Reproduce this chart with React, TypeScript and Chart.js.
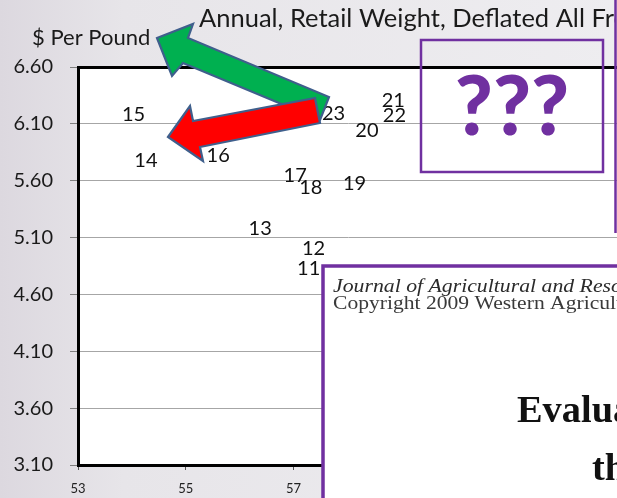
import React, { useEffect, useRef } from 'react';
import { Chart, registerables } from 'chart.js';

Chart.register(...registerables);

// ---- Data ----
const yearLabels = ['11', '12', '13', '14', '15', '16', '17', '18', '19', '20', '21', '22', '23'];
const quantity = [57.28, 57.37, 56.38, 54.26, 54.03, 55.6, 57.03, 57.32, 58.13, 58.36, 58.85, 58.87, 57.74];
const pricePerPound = [4.84, 5.01, 5.19, 5.79, 6.19, 5.83, 5.65, 5.55, 5.58, 6.05, 6.31, 6.18, 6.2];
const xTickValues = [53, 55, 57, 59, 61, 63];
const yTickValues = [3.1, 3.6, 4.1, 4.6, 5.1, 5.6, 6.1, 6.6];

const titleText = 'Annual, Retail Weight, Deflated All Fresh Fruits';
const yAxisText = '$ Per Pound';
const questionText = '???';
const journalLine1 = 'Journal of Agricultural and Resource Economics';
const journalLine2 = 'Copyright 2009 Western Agricultural Economics Association';
const paperTitle1 = 'Evaluating';
const paperTitle2 = 'the';

const SANS = 'Lato, "Open Sans", "DejaVu Sans", sans-serif';
const SERIF = '"Liberation Serif", "DejaVu Serif", serif';
const PURPLE = '#7030a0';
const ARROW_EDGE = '#3f5f8c';
const CANVAS_W = 617;
const CANVAS_H = 498;

function polygon(ctx: CanvasRenderingContext2D, pts: number[][], fill: string) {
  ctx.beginPath();
  ctx.moveTo(pts[0][0], pts[0][1]);
  for (let i = 1; i < pts.length; i++) ctx.lineTo(pts[i][0], pts[i][1]);
  ctx.closePath();
  ctx.fillStyle = fill;
  ctx.fill();
  ctx.lineWidth = 2.2;
  ctx.lineJoin = 'miter';
  ctx.strokeStyle = ARROW_EDGE;
  ctx.stroke();
}

// draws text horizontally stretched so that `sample` (its prefix) spans `targetWidth`
function stretchedText(
  ctx: CanvasRenderingContext2D,
  text: string,
  sample: string,
  targetWidth: number,
  x: number,
  y: number
) {
  const w = ctx.measureText(sample).width || 1;
  const k = targetWidth / w;
  ctx.save();
  ctx.translate(x, y);
  ctx.scale(k, 1);
  ctx.fillText(text, 0, 0);
  ctx.restore();
}

const backgroundPlugin = {
  id: 'slideBackground',
  beforeDraw(chart: any) {
    const { ctx, width, height, chartArea } = chart;
    ctx.save();
    const g = ctx.createLinearGradient(0, 0, width, 0);
    g.addColorStop(0, '#dcd8df');
    g.addColorStop(0.2, '#e7e5e9');
    g.addColorStop(1, '#eeedf0');
    ctx.fillStyle = g;
    ctx.fillRect(0, 0, width, height);
    ctx.fillStyle = '#ffffff';
    ctx.fillRect(chartArea.left, chartArea.top, chartArea.right - chartArea.left, chartArea.bottom - chartArea.top);
    ctx.restore();
  },
};

const pointLabelPlugin = {
  id: 'yearLabels',
  afterDatasetsDraw(chart: any) {
    const { ctx } = chart;
    const meta = chart.getDatasetMeta(0);
    ctx.save();
    ctx.font = `20px ${SANS}`;
    ctx.fillStyle = '#111111';
    ctx.textAlign = 'center';
    ctx.textBaseline = 'middle';
    meta.data.forEach((pt: any, i: number) => {
      ctx.fillText(yearLabels[i], pt.x, pt.y + 1);
    });
    ctx.restore();
  },
};

const overlayPlugin = {
  id: 'slideOverlays',
  afterDraw(chart: any) {
    const { ctx, width, height } = chart;
    ctx.save();

    // slide texts
    ctx.fillStyle = '#1a1a1a';
    ctx.textBaseline = 'alphabetic';
    ctx.textAlign = 'left';
    ctx.font = `25.5px ${SANS}`;
    ctx.save();
    ctx.beginPath();
    ctx.rect(0, 0, 615, height);
    ctx.clip();
    ctx.fillText(titleText, 199, 27);
    ctx.restore();
    ctx.font = `22px ${SANS}`;
    ctx.fillText(yAxisText, 32, 45);

    // arrows
    polygon(ctx, [[157, 38], [193, 24], [188, 38], [329, 97], [320, 120], [183, 63], [172, 76]], '#00b050');
    polygon(ctx, [[168, 137], [190, 106], [193, 121], [315, 98], [320, 123], [200, 147], [203, 161]], '#ff0000');

    // "???" box
    ctx.strokeStyle = PURPLE;
    ctx.lineWidth = 2.5;
    ctx.strokeRect(421, 40, 182, 132);
    ctx.fillStyle = PURPLE;
    ctx.font = `900 82px ${SANS}`;
    ctx.textAlign = 'center';
    ctx.fillText(questionText, 512, 135);

    // edge of another box on the right
    ctx.beginPath();
    ctx.moveTo(615.5, 0);
    ctx.lineTo(615.5, 233);
    ctx.lineWidth = 2.5;
    ctx.stroke();

    // journal page box
    ctx.fillStyle = '#ffffff';
    ctx.fillRect(323, 266, width - 323 + 10, height - 266 + 10);
    ctx.strokeStyle = PURPLE;
    ctx.lineWidth = 3.5;
    ctx.strokeRect(323, 266, width - 323 + 10, height - 266 + 10);

    ctx.textAlign = 'left';
    ctx.fillStyle = '#2b2b2b';
    ctx.font = `italic 19px ${SERIF}`;
    stretchedText(ctx, journalLine1, 'Journal of Agricultural and Res', 278, 333, 292);
    ctx.fillStyle = '#3a3a3a';
    ctx.font = `19px ${SERIF}`;
    stretchedText(ctx, journalLine2, 'Copyright 2009 Western Agricu', 277, 333, 309);

    ctx.fillStyle = '#111111';
    ctx.font = `bold 37px ${SERIF}`;
    stretchedText(ctx, paperTitle1, 'Evalu', 96, 517, 422);
    stretchedText(ctx, paperTitle2, 'Evalu', 96, 592, 480);

    ctx.restore();
  },
};

export default function App() {
  const canvasRef = useRef<HTMLCanvasElement | null>(null);

  useEffect(() => {
    document.body.style.margin = '0';
    const canvas = canvasRef.current;
    if (!canvas) return;
    const chart: any = new Chart(canvas, {
      type: 'scatter',
      data: {
        datasets: [
          {
            label: 'Fresh fruit',
            data: quantity.map((x, i) => ({ x, y: pricePerPound[i] })),
            pointRadius: 0,
            pointHoverRadius: 0,
            showLine: false,
          },
        ],
      },
      options: {
        responsive: false,
        devicePixelRatio: 1,
        animation: false,
        events: [],
        layout: { padding: { top: 67, left: 0, right: 0, bottom: 0 } },
        plugins: {
          legend: { display: false },
          tooltip: { enabled: false },
          title: { display: false },
        },
        scales: {
          x: {
            type: 'linear',
            min: xTickValues[0],
            max: xTickValues[xTickValues.length - 1],
            afterBuildTicks: (s: any) => {
              s.ticks = xTickValues.map((v) => ({ value: v }));
            },
            afterFit: (s: any) => {
              s.height = 33;
              s.paddingRight = 0;
              s.paddingLeft = 0;
            },
            ticks: {
              autoSkip: false,
              maxRotation: 0,
              color: '#222222',
              padding: 11,
              font: { family: SANS, size: 13 },
              callback: (v: any) => (Number(v) <= 57 ? String(v) : ''),
            },
            grid: {
              drawOnChartArea: false,
              drawTicks: true,
              tickLength: 5,
              tickColor: '#555555',
              tickWidth: 1,
            },
            border: { color: '#000000', width: 3 },
          },
          y: {
            type: 'linear',
            min: yTickValues[0],
            max: yTickValues[yTickValues.length - 1],
            afterBuildTicks: (s: any) => {
              s.ticks = yTickValues.map((v) => ({ value: v }));
            },
            afterFit: (s: any) => {
              s.width = 78;
              s.paddingTop = 0;
              s.paddingBottom = 0;
            },
            ticks: {
              autoSkip: false,
              color: '#1a1a1a',
              padding: 17,
              font: { family: SANS, size: 20 },
              callback: (v: any) => Number(v).toFixed(2),
            },
            grid: {
              color: (c: any) => (c.tick && Math.abs(c.tick.value - 6.6) < 1e-6 ? '#000000' : '#a6a6a6'),
              lineWidth: (c: any) => (c.tick && Math.abs(c.tick.value - 6.6) < 1e-6 ? 3 : 1),
              drawTicks: true,
              tickLength: 8,
              tickColor: '#7f7f7f',
              tickWidth: 1,
            },
            border: { color: '#000000', width: 3 },
          },
        },
      },
      plugins: [backgroundPlugin, pointLabelPlugin, overlayPlugin],
    });
    // make the plot area run all the way to the right edge, as in the slide
    const gap = CANVAS_W - chart.chartArea.right;
    if (gap > 0.5) {
      chart.options.layout.padding.right = -gap;
      chart.update();
    }
    return () => chart.destroy();
  }, []);

  return (
    <div style={{ position: 'absolute', left: 0, top: 0, width: CANVAS_W, height: CANVAS_H }}>
      <canvas
        ref={canvasRef}
        width={CANVAS_W}
        height={CANVAS_H}
        style={{ display: 'block', width: CANVAS_W, height: CANVAS_H }}
      />
    </div>
  );
}
